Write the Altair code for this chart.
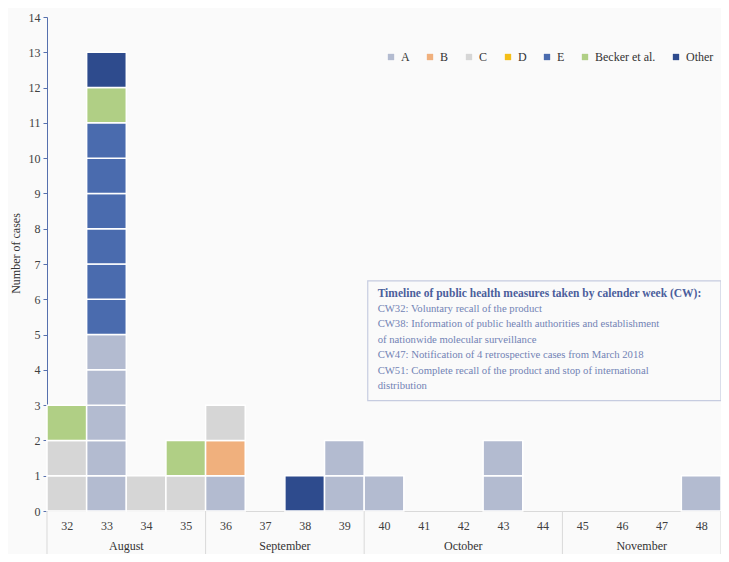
import altair as alt
import pandas as pd

weeks = list(range(32, 49))
categories = ["A", "B", "C", "D", "E", "Becker et al.", "Other"]
cat_colors = ["#B3BBD0", "#F0B07D", "#D6D6D6", "#F4BE17", "#4A6BAE", "#B0CF85", "#2E4B8D"]

counts_A = [0, 5, 0, 0, 1, 0, 0, 2, 1, 0, 0, 2, 0, 0, 0, 0, 1]
counts_B = [0, 0, 0, 0, 1, 0, 0, 0, 0, 0, 0, 0, 0, 0, 0, 0, 0]
counts_C = [2, 0, 1, 1, 1, 0, 0, 0, 0, 0, 0, 0, 0, 0, 0, 0, 0]
counts_D = [0, 0, 0, 0, 0, 0, 0, 0, 0, 0, 0, 0, 0, 0, 0, 0, 0]
counts_E = [0, 6, 0, 0, 0, 0, 0, 0, 0, 0, 0, 0, 0, 0, 0, 0, 0]
counts_Becker = [1, 1, 0, 1, 0, 0, 0, 0, 0, 0, 0, 0, 0, 0, 0, 0, 0]
counts_Other = [0, 1, 0, 0, 0, 0, 1, 0, 0, 0, 0, 0, 0, 0, 0, 0, 0]

months = ["August", "September", "October", "November"]
month_first_week = [32, 36, 40, 45]
month_last_week = [35, 39, 44, 48]

note_title = "Timeline of public health measures taken by calender week (CW):"
note_lines = [
    "CW32: Voluntary recall of the product",
    "CW38: Information of public health authorities and establishment",
    "of nationwide molecular surveillance",
    "CW47: Notification of 4 retrospective cases from March 2018",
    "CW51: Complete recall of the product and stop of international",
    "distribution",
]

FONT = "Liberation Serif"

# one row per case, stacked in legend order
all_counts = [counts_A, counts_B, counts_C, counts_D, counts_E, counts_Becker, counts_Other]
rows = []
for i, w in enumerate(weeks):
    level = 0
    for cat, cnts in zip(categories, all_counts):
        for _ in range(cnts[i]):
            rows.append({"week": w, "lo": w - 0.5, "hi": w + 0.5,
                         "y0": level, "y1": level + 1, "cat": cat})
            level += 1
cells = pd.DataFrame(rows)

month_df = pd.DataFrame({
    "month": months,
    "center": [(a + b) / 2 for a, b in zip(month_first_week, month_last_week)],
    "y": [-1.0] * len(months),
})
div_pos = [w - 0.5 for w in month_first_week] + [month_last_week[-1] + 0.5]
div_df = pd.DataFrame({"x": div_pos, "y": [0.0] * len(div_pos), "y2": [-1.4] * len(div_pos)})

xscale = alt.Scale(domain=[31.5, 48.5], nice=False, zero=False)
yscale = alt.Scale(domain=[0, 14], nice=False)
xaxis = alt.Axis(values=weeks, format="d", title=None, ticks=False, grid=False,
                 domainColor="#D9D9D9", labelFont=FONT, labelFontSize=12,
                 labelColor="#404040", labelPadding=9, labelOverlap=False)
yaxis = alt.Axis(values=list(range(0, 15)), tickCount=15, title="Number of cases", grid=False,
                 domainColor="#5670AE", tickColor="#5670AE", tickSize=4,
                 labelFont=FONT, labelFontSize=12, labelColor="#404040",
                 labelPadding=3, labelOverlap=False, titleFont=FONT, titleFontSize=12,
                 titleFontWeight="normal", titleColor="#333333",
                 titleX=-25, titleY=236)


def X(f):
    return alt.X(f, scale=xscale, axis=xaxis)


def Y(f):
    return alt.Y(f, scale=yscale, axis=yaxis)


box = alt.Chart(pd.DataFrame({"x": [39.59], "x2": [48.5], "y": [3.13], "y2": [6.52]})).mark_rect(
    fill="#FAFAFA", stroke="#C6CCE0", strokeWidth=1.2
).encode(x=X("x:Q"), x2="x2:Q", y=Y("y:Q"), y2="y2:Q")

bars = alt.Chart(cells).mark_rect(stroke="white", strokeWidth=1.5).encode(
    x=X("lo:Q"),
    x2="hi:Q",
    y=Y("y0:Q"),
    y2="y1:Q",
    color=alt.Color("cat:N", scale=alt.Scale(domain=categories, range=cat_colors),
                    legend=alt.Legend(title=None, orient="none", direction="horizontal",
                                      legendX=338, legendY=34, symbolType="square",
                                      symbolSize=40, symbolStrokeWidth=0,
                                      labelFont=FONT, labelFontSize=12,
                                      labelColor="#333333", columnPadding=14,
                                      labelOffset=4)),
)

title_txt = alt.Chart(pd.DataFrame({"x": [39.84], "y": [6.15], "t": [note_title]})).mark_text(
    align="left", baseline="middle", font=FONT, fontSize=11.5, fontWeight="bold", color="#4B5E9C"
).encode(x=X("x:Q"), y=Y("y:Q"), text="t:N")

body_txt = alt.Chart(pd.DataFrame({"x": [39.84], "y": [5.73]})).mark_text(
    align="left", baseline="middle", font=FONT, fontSize=10.7, color="#7283B5",
    lineHeight=15.5, text=note_lines
).encode(x=X("x:Q"), y=Y("y:Q"))

dividers = alt.Chart(div_df).mark_rule(color="#D9D9D9", strokeWidth=1).encode(
    x=X("x:Q"), y=Y("y:Q"), y2="y2:Q"
)

month_txt = alt.Chart(month_df).mark_text(
    font=FONT, fontSize=12, color="#333333", baseline="middle"
).encode(x=X("center:Q"), y=Y("y:Q"), text="month:N")

chart = alt.layer(box, bars, title_txt, body_txt, dividers, month_txt).properties(
    width=674, height=494,
    autosize=alt.AutoSizeParams(type="none"),
    padding={"left": 39, "top": 9, "right": 0, "bottom": 43},
    background="#FAFAFA",
).configure_view(stroke=None)

chart.save("out.html", embed_options={"renderer": "svg", "actions": False})
